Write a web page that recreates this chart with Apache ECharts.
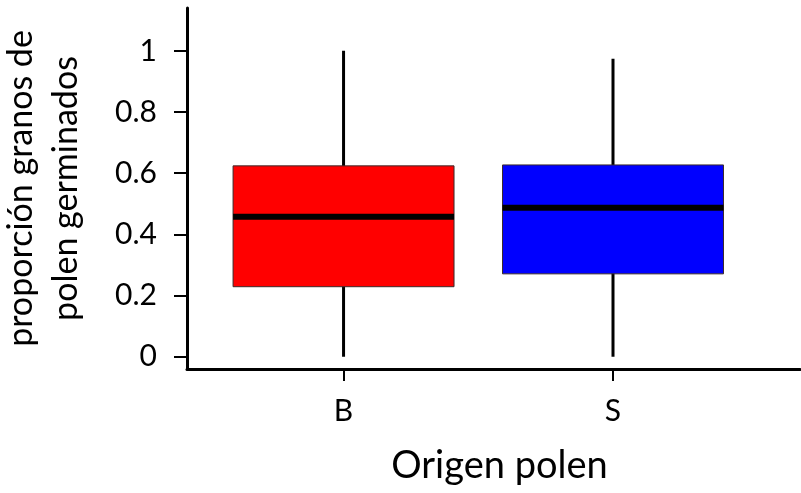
<!DOCTYPE html>
<html>
<head>
<meta charset="utf-8">
<script src="https://cdn.jsdelivr.net/npm/echarts@6/dist/echarts.min.js"></script>
<style>html,body{margin:0;padding:0;background:#fff}#c{width:801px;height:493px}</style>
</head>
<body>
<div id="c"></div>
<script>
const categories = ['B', 'S'];
const minVals = [0, 0];
const q1Vals = [0.229, 0.271];
const medianVals = [0.458, 0.487];
const q3Vals = [0.624, 0.627];
const maxVals = [1.0, 0.974];
const yTicks = [0, 0.2, 0.4, 0.6, 0.8, 1];
const boxColors = ['#ff0000', '#0000ff'];

const FONT = 'Lato';
const chart = echarts.init(document.getElementById('c'), null, {renderer: 'canvas'});
const data = categories.map((c, i) => [i + 1, minVals[i], q1Vals[i], medianVals[i], q3Vals[i], maxVals[i]]);

chart.setOption({
  animation: false,
  backgroundColor: '#fff',
  grid: {left: 187, right: 1, top: 8, bottom: 124, containLabel: false, outerBoundsMode: 'none'},
  xAxis: {
    type: 'value', min: 0.419, max: 2.694,
    axisLine: {show: true, onZero: false, lineStyle: {color: '#000', width: 3}},
    axisTick: {show: true, customValues: [1, 2], length: 12, lineStyle: {color: '#000', width: 2}},
    axisLabel: {customValues: [1, 2], formatter: v => categories[Math.round(v) - 1] || '',
      color: '#000', fontFamily: FONT, fontSize: 30, margin: 27},
    splitLine: {show: false},
    name: 'Origen polen', nameLocation: 'middle', nameGap: 78,
    nameTextStyle: {color: '#000', fontFamily: FONT, fontSize: 38, padding: [0, 0, 0, 12]}
  },
  yAxis: {
    type: 'value', min: -0.04, max: 1.14,
    axisLine: {show: true, onZero: false, lineStyle: {color: '#000', width: 3}},
    axisTick: {show: true, customValues: yTicks, length: 13, lineStyle: {color: '#000', width: 2}},
    axisLabel: {customValues: yTicks, color: '#000', fontFamily: FONT, fontSize: 30, margin: 30},
    splitLine: {show: false},
    name: 'proporción granos de\npolen germinados', nameLocation: 'middle', nameRotate: 90, nameGap: 98,
    nameTextStyle: {color: '#000', fontFamily: FONT, fontSize: 34, lineHeight: 45}
  },
  series: [{
    type: 'custom',
    data: data,
    encode: {x: 0, y: [1, 2, 3, 4, 5]},
    renderItem: function (params, api) {
      const x = api.value(0);
      const pMin = api.coord([x, api.value(1)]);
      const pQ1 = api.coord([x, api.value(2)]);
      const pMed = api.coord([x, api.value(3)]);
      const pQ3 = api.coord([x, api.value(4)]);
      const pMax = api.coord([x, api.value(5)]);
      const hw = api.size([1, 0])[0] * 0.41;
      const col = boxColors[params.dataIndex];
      return {
        type: 'group',
        children: [
          {type: 'line', shape: {x1: pMin[0], y1: pMin[1], x2: pMax[0], y2: pMax[1]},
            style: {stroke: '#000', lineWidth: 3}},
          {type: 'rect', shape: {x: pQ3[0] - hw, y: pQ3[1], width: hw * 2, height: pQ1[1] - pQ3[1]},
            style: {fill: col, stroke: '#3a2a2a', lineWidth: 1}},
          {type: 'line', shape: {x1: pMed[0] - hw, y1: pMed[1], x2: pMed[0] + hw, y2: pMed[1]},
            style: {stroke: '#000', lineWidth: 6}}
        ]
      };
    }
  }]
});
</script>
</body>
</html>
